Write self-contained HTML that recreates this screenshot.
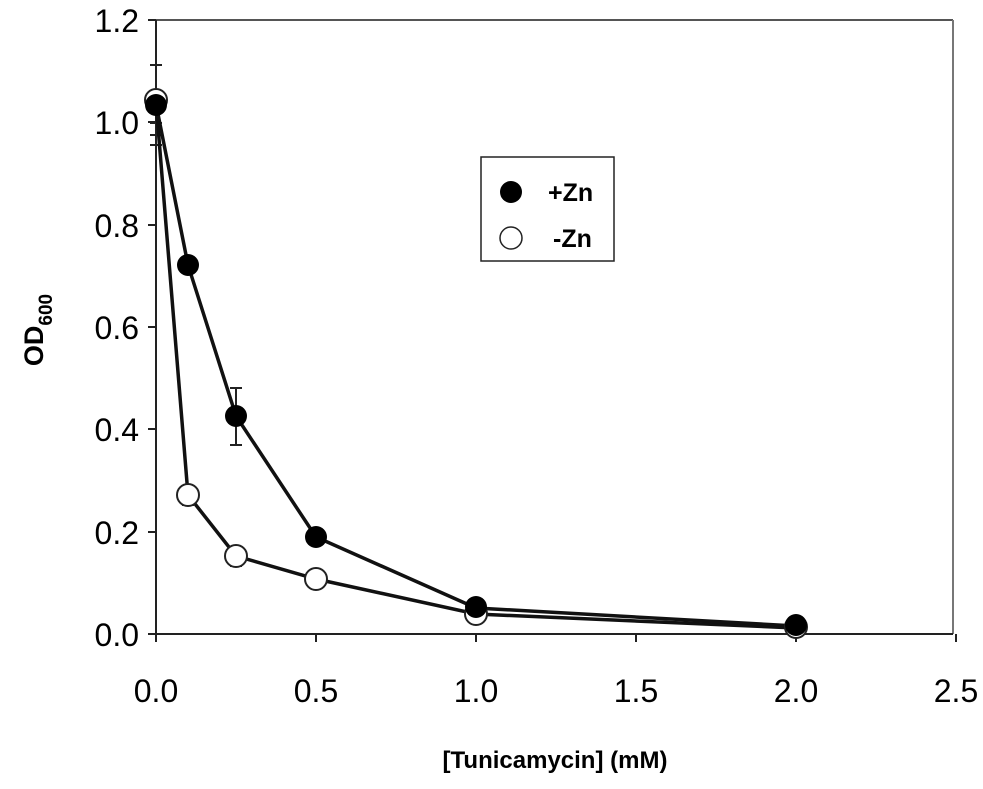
<!DOCTYPE html>
<html><head><style>body{margin:0;background:#fff}</style></head><body>
<svg width="983" height="784" xmlns="http://www.w3.org/2000/svg" font-family="Liberation Sans, Arial, sans-serif">
<rect width="983" height="784" fill="#fff"/>
<line x1="156" y1="20" x2="953" y2="20" stroke="#555" stroke-width="2"/>
<line x1="953" y1="20" x2="953" y2="634" stroke="#777" stroke-width="2"/>
<line x1="156" y1="20" x2="156" y2="634" stroke="#222" stroke-width="2"/>
<line x1="148" y1="634" x2="953" y2="634" stroke="#222" stroke-width="2"/>
<g stroke="#222" stroke-width="2">
<line x1="148" y1="20" x2="156" y2="20"/><line x1="148" y1="122" x2="156" y2="122"/><line x1="148" y1="225" x2="156" y2="225"/><line x1="148" y1="327" x2="156" y2="327"/><line x1="148" y1="429" x2="156" y2="429"/><line x1="148" y1="532" x2="156" y2="532"/>
<line x1="156" y1="634" x2="156" y2="642"/><line x1="316" y1="634" x2="316" y2="642"/><line x1="476" y1="634" x2="476" y2="642"/><line x1="636" y1="634" x2="636" y2="642"/><line x1="796" y1="634" x2="796" y2="642"/><line x1="956" y1="634" x2="956" y2="642"/>
</g>
<g font-size="32" text-anchor="end" fill="#000">
<text x="139" y="32">1.2</text><text x="139" y="134">1.0</text><text x="139" y="237">0.8</text><text x="139" y="339">0.6</text><text x="139" y="441">0.4</text><text x="139" y="544">0.2</text><text x="139" y="646">0.0</text>
</g>
<g font-size="32" text-anchor="middle" fill="#000">
<text x="156" y="702">0.0</text><text x="316" y="702">0.5</text><text x="476" y="702">1.0</text><text x="636" y="702">1.5</text><text x="796" y="702">2.0</text><text x="956" y="702">2.5</text>
</g>
<text x="555" y="768" font-size="24" font-weight="bold" text-anchor="middle">[Tunicamycin] (mM)</text>
<text transform="translate(43,330) rotate(-90)" font-size="27" font-weight="bold" text-anchor="middle">OD<tspan font-size="19" dy="9">600</tspan></text>
<g stroke="#222" stroke-width="2">
<line x1="156" y1="65" x2="156" y2="145"/><line x1="150" y1="65" x2="162" y2="65"/><line x1="150" y1="123" x2="162" y2="123"/><line x1="150" y1="135" x2="162" y2="135"/><line x1="150" y1="145" x2="162" y2="145"/>
<line x1="236" y1="388" x2="236" y2="445"/><line x1="230" y1="388" x2="242" y2="388"/><line x1="230" y1="445" x2="242" y2="445"/>
<line x1="188" y1="487" x2="188" y2="505"/><line x1="182" y1="505" x2="194" y2="505"/>
<line x1="236" y1="548" x2="236" y2="566"/><line x1="230" y1="566" x2="242" y2="566"/>
</g>
<polyline points="156,102 188,495 236,556 316,579 476,614 796,628" fill="none" stroke="#111" stroke-width="3.5"/>
<polyline points="156,104 188,265 236,416 316,537 476,608 796,626" fill="none" stroke="#111" stroke-width="3.5"/>
<g fill="#fff" stroke="#222" stroke-width="2">
<circle cx="156" cy="100" r="11"/><circle cx="188" cy="495" r="11"/><circle cx="236" cy="556" r="11"/><circle cx="316" cy="579" r="11"/><circle cx="476" cy="614" r="11"/><circle cx="796" cy="627" r="11"/>
</g>
<g fill="#000">
<circle cx="156" cy="105" r="11"/><circle cx="188" cy="265" r="11"/><circle cx="236" cy="416" r="11"/><circle cx="316" cy="537" r="11"/><circle cx="476" cy="607" r="11"/><circle cx="796" cy="625" r="11"/>
</g>
<rect x="481" y="157" width="133" height="104" fill="#fff" stroke="#222" stroke-width="1.5"/>
<circle cx="511" cy="192" r="11" fill="#000"/>
<circle cx="511" cy="238" r="11" fill="#fff" stroke="#222" stroke-width="1.5"/>
<text x="548" y="201" font-size="25" font-weight="bold">+Zn</text>
<text x="553" y="247" font-size="25" font-weight="bold">-Zn</text>
</svg>
</body></html>
